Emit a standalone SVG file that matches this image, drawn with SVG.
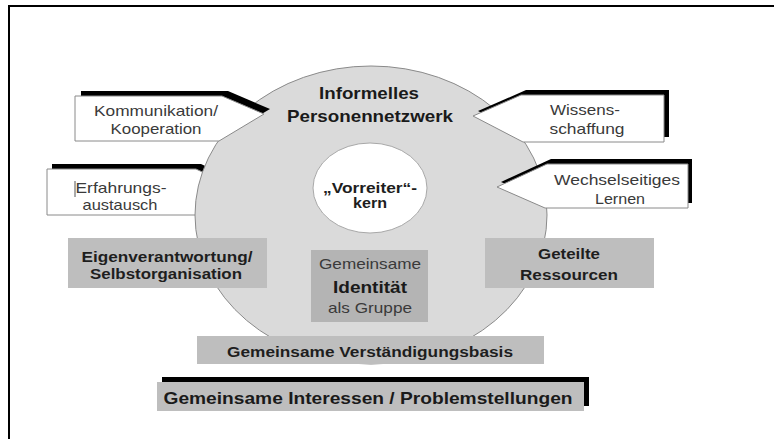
<svg xmlns="http://www.w3.org/2000/svg" width="774" height="439" viewBox="0 0 774 439">
<style>
text{font-family:"Liberation Sans",Arial,sans-serif;text-anchor:middle}
.n{font-size:14.5px;fill:#3a3a3a}
.b{font-size:14.5px;font-weight:bold;fill:#1e1e1e}
.bb{font-size:16.5px;font-weight:bold;fill:#1a1a1a}
.wb{fill:#ffffff;stroke:#8a8a8a;stroke-width:1}
.sh{fill:#000000}
.gb{fill:#bebebe}
</style>
<rect x="0" y="0" width="774" height="439" fill="#ffffff"/>
<g id="frame" fill="none" stroke="#000" stroke-width="2">
<path d="M9 439 V6 H774"/>
</g>
<g id="erfahrungsaustausch">
<polygon class="sh" points="52,164 201,164 250,187 201,210 52,210"/>
<polygon class="wb" points="47,169 196,169 245,192 196,215 47,215"/>
<line x1="75" y1="181" x2="75" y2="197" stroke="#555" stroke-width="1"/>
<text class="n" x="121" y="193" textLength="91" lengthAdjust="spacingAndGlyphs">Erfahrungs-</text>
<text class="n" x="120" y="210" textLength="75" lengthAdjust="spacingAndGlyphs">austausch</text>
</g>
<g id="personennetzwerk">
<ellipse cx="371" cy="215" rx="176" ry="149" fill="#dadada" stroke="#8a8a8a" stroke-width="1"/>
<text class="bb" x="369" y="99" textLength="100" lengthAdjust="spacingAndGlyphs">Informelles</text>
<text class="bb" x="370" y="122" textLength="166" lengthAdjust="spacingAndGlyphs">Personennetzwerk</text>
</g>
<g id="vorreiterkern">
<ellipse cx="370" cy="188" rx="57" ry="45" fill="#ffffff" stroke="#a8a8a8" stroke-width="1"/>
<text class="b" x="370" y="193" textLength="94" lengthAdjust="spacingAndGlyphs">„Vorreiter“-</text>
<text class="b" x="370" y="208" textLength="34" lengthAdjust="spacingAndGlyphs">kern</text>
</g>
<g id="kommunikation">
<polygon class="sh" points="81,91 228,91 270,109 225,136 81,136"/>
<polygon class="wb" points="75,96 222,96 264,114 219,141 75,141"/>
<text class="n" x="156" y="116" textLength="124" lengthAdjust="spacingAndGlyphs">Kommunikation/</text>
<text class="n" x="156" y="134" textLength="91" lengthAdjust="spacingAndGlyphs">Kooperation</text>
</g>
<g id="wissensschaffung">
<polygon class="sh" points="478,111 526,90 669,90 669,137 528,137"/>
<polygon class="wb" points="473,116 521,95 664,95 664,142 523,142"/>
<text class="n" x="585" y="115" textLength="70" lengthAdjust="spacingAndGlyphs">Wissens-</text>
<text class="n" x="587" y="134" textLength="75" lengthAdjust="spacingAndGlyphs">schaffung</text>
</g>
<g id="wechselseitiges-lernen">
<polygon class="sh" points="501,182 551,159 692,159 692,203 549,203"/>
<polygon class="wb" points="497,187 547,164 688,164 688,208 545,208"/>
<text class="n" x="617" y="185" textLength="126" lengthAdjust="spacingAndGlyphs">Wechselseitiges</text>
<text class="n" x="620" y="204" textLength="50" lengthAdjust="spacingAndGlyphs">Lernen</text>
</g>
<g id="eigenverantwortung">
<rect class="gb" x="68" y="238" width="199" height="50"/>
<text class="b" x="167" y="262" textLength="171" lengthAdjust="spacingAndGlyphs">Eigenverantwortung/</text>
<text class="b" x="166" y="279" textLength="152" lengthAdjust="spacingAndGlyphs">Selbstorganisation</text>
</g>
<g id="identitaet">
<rect x="311" y="250" width="117" height="72" fill="#b4b4b4"/>
<text class="n" x="370" y="269" textLength="102" lengthAdjust="spacingAndGlyphs">Gemeinsame</text>
<text class="bb" x="370" y="293" textLength="74" lengthAdjust="spacingAndGlyphs" style="font-size:17px">Identität</text>
<text class="n" x="370" y="313" textLength="84" lengthAdjust="spacingAndGlyphs">als Gruppe</text>
</g>
<g id="geteilte-ressourcen">
<rect class="gb" x="485" y="238" width="169" height="50"/>
<text class="b" x="569" y="259" textLength="62" lengthAdjust="spacingAndGlyphs">Geteilte</text>
<text class="b" x="569" y="280" textLength="98" lengthAdjust="spacingAndGlyphs">Ressourcen</text>
</g>
<g id="verstaendigungsbasis">
<rect class="gb" x="197" y="336" width="347" height="28"/>
<text class="b" x="370" y="357" textLength="286" lengthAdjust="spacingAndGlyphs">Gemeinsame Verständigungsbasis</text>
</g>
<g id="interessen">
<rect class="sh" x="162" y="377" width="427" height="29"/>
<rect class="gb" x="157" y="382" width="427" height="29"/>
<text class="bb" x="368" y="404" textLength="409" lengthAdjust="spacingAndGlyphs" style="font-size:17px">Gemeinsame Interessen / Problemstellungen</text>
</g>
<g id="connectors"></g>
</svg>
